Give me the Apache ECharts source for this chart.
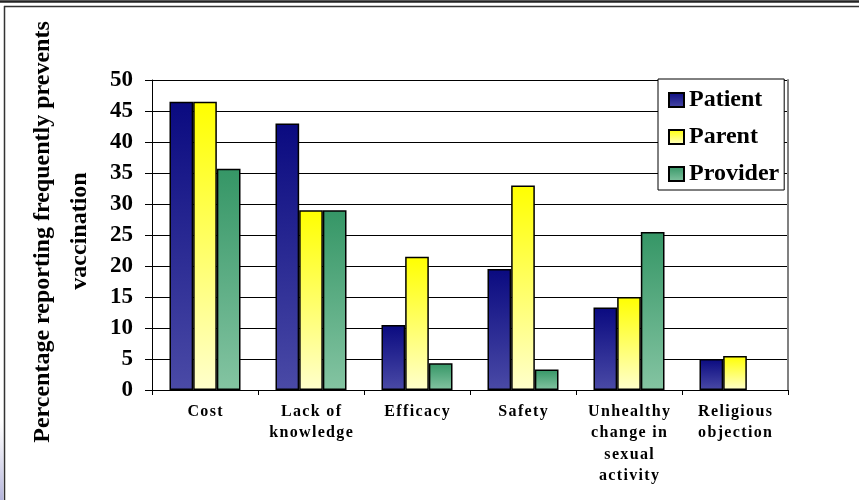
<!DOCTYPE html>
<html>
<head>
<meta charset="utf-8">
<script src="https://cdn.jsdelivr.net/npm/echarts@6/dist/echarts.min.js"></script>
<style>
  html, body { margin: 0; padding: 0; background: #fff; }
  #chart { width: 859px; height: 500px; }
</style>
</head>
<body>
<div id="chart"></div>
<script>
// data
const categories = ['Cost', 'Lack of\nknowledge', 'Efficacy', 'Safety', 'Unhealthy\nchange in\nsexual\nactivity', 'Religious\nobjection'];
const patient = [46.5, 43, 10.5, 19.5, 13.3, 5];
const parent = [46.5, 29, 21.5, 33, 15, 5.5];
const provider = [35.7, 29, 4.3, 3.3, 25.5, null]; // no provider bar for religious objection
const yTicks = [0, 50, 5]; // min, max, step

const serif = '"Times New Roman", "Liberation Serif", serif';

function grad(top, bottom) {
  return new echarts.graphic.LinearGradient(0, 0, 0, 1, [
    { offset: 0, color: top },
    { offset: 1, color: bottom }
  ]);
}

// fake letter spacing for the category labels
function spaced(s) {
  return s.split('\n').map(line => line.split('').join('\u200a')).join('\n');
}

const myChart = echarts.init(document.getElementById('chart'));

const barStyle = (top, bottom) => ({
  color: grad(top, bottom),
  borderColor: '#000',
  borderWidth: 1.5
});

const option = {
  backgroundColor: '#fff',
  animation: false,
  grid: { left: 152, top: 80, right: 71, bottom: 110, containLabel: false },
  legend: {
    orient: 'vertical',
    left: 658,
    top: 79,
    padding: [9, 5, 4, 10],
    itemGap: 13,
    itemWidth: 15,
    itemHeight: 14,
    backgroundColor: '#fff',
    borderColor: '#000',
    borderWidth: 1,
    borderRadius: 0,
    icon: 'rect',
    selectedMode: false,
    textStyle: { fontFamily: serif, fontWeight: 'bold', fontSize: 24, color: '#000', lineHeight: 24 },
    data: ['Patient', 'Parent', 'Provider']
  },
  xAxis: {
    type: 'category',
    data: categories,
    axisLine: { lineStyle: { color: '#000', width: 1 } },
    axisTick: { show: true, length: 5, lineStyle: { color: '#000' } },
    axisLabel: {
      interval: 0,
      margin: 11,
      fontFamily: serif,
      fontWeight: 'bold',
      fontSize: 16,
      lineHeight: 21.5,
      color: '#000',
      formatter: spaced
    }
  },
  yAxis: [
    {
      type: 'value',
      min: yTicks[0],
      max: yTicks[1],
      interval: yTicks[2],
      axisLine: { show: true, lineStyle: { color: '#000', width: 1 } },
      axisTick: { show: true, length: 7, lineStyle: { color: '#000' } },
      splitLine: { show: true, lineStyle: { color: '#000', width: 1 } },
      axisLabel: { margin: 19, fontFamily: serif, fontWeight: 'bold', fontSize: 23, color: '#000' }
    },
    {
      // grey right border of the plot area
      type: 'value',
      position: 'right',
      min: yTicks[0],
      max: yTicks[1],
      interval: yTicks[2],
      axisLine: { show: true, lineStyle: { color: '#808080', width: 2 } },
      axisTick: { show: false },
      splitLine: { show: false },
      axisLabel: { show: false }
    }
  ],
  graphic: [
    // outer frame
    { type: 'line', shape: { x1: 0, y1: 1.5, x2: 859, y2: 1.5 }, style: { stroke: '#222', lineWidth: 2.5 } },
    { type: 'line', shape: { x1: 4, y1: 6.5, x2: 859, y2: 6.5 }, style: { stroke: '#333', lineWidth: 1.5 } },
    { type: 'line', shape: { x1: 4.5, y1: 6, x2: 4.5, y2: 500 }, style: { stroke: '#333', lineWidth: 1.5 } },
    {
      type: 'rect', shape: { x: 0, y: 420, width: 3.5, height: 80 },
      style: { fill: grad('rgba(200,200,225,0)', 'rgba(180,180,220,1)') }
    },
    // y axis title, two rotated lines
    {
      type: 'text', x: 43, y: 232, rotation: Math.PI / 2,
      style: {
        text: 'Percentage reporting frequently prevents',
        font: 'bold 24px ' + serif, fill: '#000',
        textAlign: 'center', textVerticalAlign: 'middle', align: 'center', verticalAlign: 'middle'
      }
    },
    {
      type: 'text', x: 80, y: 231, rotation: Math.PI / 2,
      style: {
        text: 'vaccination',
        font: 'bold 24px ' + serif, fill: '#000',
        textAlign: 'center', textVerticalAlign: 'middle', align: 'center', verticalAlign: 'middle'
      }
    }
  ],
  series: [
    {
      name: 'Patient', type: 'bar', data: patient,
      barGap: '0%', barCategoryGap: '33%',
      itemStyle: barStyle('#0a0a80', '#4a4aa6')
    },
    {
      name: 'Parent', type: 'bar', data: parent,
      barGap: '0%', barCategoryGap: '33%',
      itemStyle: barStyle('#ffff00', '#ffffcc')
    },
    {
      name: 'Provider', type: 'bar', data: provider,
      barGap: '0%', barCategoryGap: '33%',
      itemStyle: barStyle('#359666', '#84c4a2')
    }
  ]
};

myChart.setOption(option);
</script>
</body>
</html>
